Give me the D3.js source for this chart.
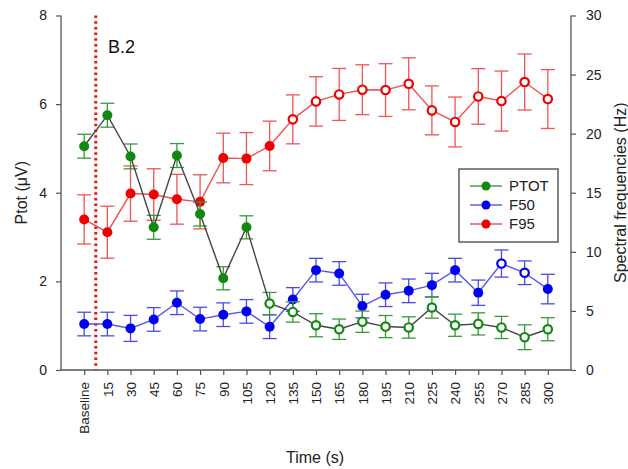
<!DOCTYPE html>
<html><head><meta charset="utf-8">
<script src="https://cdn.jsdelivr.net/npm/d3@7"></script>
<style>body{margin:0;background:#fff}svg{display:block}text{font-family:"Liberation Sans",Arial,sans-serif}</style>
</head><body><svg id="c" width="628" height="469"></svg>
<script>
const categories = ["Baseline","15","30","45","60","75","90","105","120","135","150","165","180","195","210","225","240","255","270","285","300"];
// PTOT (left axis, µV)
const ptot = [5.05,5.75,4.82,3.22,4.84,3.52,2.07,3.22,1.50,1.31,1.01,0.92,1.09,0.98,0.96,1.41,1.01,1.04,0.96,0.74,0.92];
const ptotErr = [0.27,0.27,0.28,0.27,0.27,0.27,0.26,0.26,0.25,0.23,0.26,0.23,0.24,0.25,0.24,0.24,0.25,0.25,0.25,0.28,0.26];
const ptotHollow = [0,0,0,0,0,0,0,0,1,1,1,1,1,1,1,1,1,1,1,1,1];
// F50 (right axis, Hz)
const f50 = [3.89,3.89,3.52,4.28,5.69,4.31,4.68,4.96,3.66,5.97,8.45,8.17,5.41,6.37,6.70,7.18,8.45,6.54,9.01,8.23,6.85];
const f50Err = [1.0,1.0,1.1,1.0,1.0,1.0,1.0,1.0,1.0,1.0,1.0,1.0,1.0,1.0,1.0,1.0,1.0,1.07,1.15,1.0,1.25];
const f50Hollow = [0,0,0,0,0,0,0,0,0,0,0,0,0,0,0,0,0,0,1,1,0];
// F95 (right axis, Hz)
const f95 = [12.74,11.66,14.93,14.85,14.45,14.23,17.94,17.89,18.96,21.21,22.73,23.32,23.72,23.69,24.22,21.97,20.99,23.15,22.76,24.37,22.93];
const f95Err = [2.08,2.2,2.34,2.18,2.11,2.29,2.1,2.2,2.1,2.07,2.09,2.2,2.11,2.23,2.2,2.07,2.11,2.35,2.54,2.37,2.49];
const f95Hollow = [0,0,0,0,0,0,0,0,0,1,1,1,1,1,1,1,1,1,1,1,1];
const leftTicks = [0,2,4,6,8];
const rightTicks = [0,5,10,15,20,25,30];
const seriesNames = ["PTOT","F50","F95"];

const svg = d3.select("#c");
const L = 61, R = 571, T = 15.5, B = 370;
const x = d3.scalePoint().domain(categories).range([L, R]).padding(1);
const yL = d3.scaleLinear().domain([0, 8]).range([B, T]);
const yR = d3.scaleLinear().domain([0, 30]).range([B, T]);
const axisCol = "#555";

// axes
const gl = svg.append("g").attr("transform", `translate(${L},0)`)
  .call(d3.axisLeft(yL).tickValues(leftTicks).tickSize(5).tickPadding(9));
const gr = svg.append("g").attr("transform", `translate(${R},0)`)
  .call(d3.axisRight(yR).tickValues(rightTicks).tickSize(5).tickPadding(10));
const gb = svg.append("g").attr("transform", `translate(0,${B})`)
  .call(d3.axisBottom(x).tickSize(5).tickSizeOuter(0));
[gl, gr, gb].forEach(g => {
  g.select(".domain").attr("stroke", axisCol).attr("stroke-width", 1.3);
  g.selectAll(".tick line").attr("stroke", axisCol).attr("stroke-width", 1.2);
  g.selectAll("text").attr("fill", "#222").style("font-size", "14px");
});
gl.select(".domain").attr("d", `M0,${B}V${T}`);
gr.select(".domain").attr("d", `M0,${B}V${T}`);
gb.select(".domain").attr("d", `M${L},0H${R}`);
gb.selectAll("text").style("font-size", "13.5px")
  .attr("transform", "rotate(-90)").attr("text-anchor", "end")
  .attr("x", -12).attr("y", 0).attr("dy", "0.35em");

// dotted vertical line
const xDot = (x(categories[0]) + x(categories[1])) / 2;
svg.append("line").attr("x1", xDot).attr("x2", xDot).attr("y1", T).attr("y2", B)
  .attr("stroke", "#ee1111").attr("stroke-width", 3).attr("stroke-dasharray", "2.5,3.2");

function drawSeries(vals, errs, hollow, ys, lineCol, markCol, errCol) {
  const g = svg.append("g");
  const data = vals.map((v, i) => ({c: categories[i], v, e: errs[i], h: hollow[i]}));
  g.selectAll("g.eb").data(data).enter().append("g").each(function(d) {
    const s = d3.select(this), cx = x(d.c);
    const y1 = ys(d.v + d.e), y2 = ys(d.v - d.e);
    s.append("line").attr("x1", cx).attr("x2", cx).attr("y1", y1).attr("y2", y2);
    s.append("line").attr("x1", cx - 7).attr("x2", cx + 7).attr("y1", y1).attr("y2", y1);
    s.append("line").attr("x1", cx - 7).attr("x2", cx + 7).attr("y1", y2).attr("y2", y2);
    s.selectAll("line").attr("stroke", errCol).attr("stroke-width", 1.3);
  });
  g.append("path").datum(data)
    .attr("d", d3.line().x(d => x(d.c)).y(d => ys(d.v)))
    .attr("fill", "none").attr("stroke", lineCol).attr("stroke-width", 1.4);
  g.selectAll("circle").data(data).enter().append("circle")
    .attr("cx", d => x(d.c)).attr("cy", d => ys(d.v))
    .attr("r", d => d.h ? 4.2 : 5)
    .attr("fill", d => d.h ? "#fff" : markCol)
    .attr("stroke", markCol).attr("stroke-width", d => d.h ? 2.2 : 0);
}
drawSeries(f95, f95Err, f95Hollow, yR, "#f05050", "#ee0000", "#ef5555");
drawSeries(f50, f50Err, f50Hollow, yR, "#5555ee", "#0000ee", "#4a4ae8");
drawSeries(ptot, ptotErr, ptotHollow, yL, "#444", "#118811", "#3a9a3a");

// labels
svg.append("text").attr("x", 108).attr("y", 53).text("B.2").style("font-size", "18px").attr("fill", "#111");
svg.append("text").attr("transform", `translate(27,${(T + B) / 2}) rotate(-90)`)
  .attr("text-anchor", "middle").style("font-size", "16px").attr("fill", "#222").text("Ptot (μV)");
svg.append("text").attr("transform", `translate(626,${(T + B) / 2}) rotate(-90)`)
  .attr("text-anchor", "middle").style("font-size", "16px").attr("fill", "#222").text("Spectral frequencies (Hz)");
svg.append("text").attr("x", 315).attr("y", 463).attr("text-anchor", "middle")
  .style("font-size", "16px").attr("fill", "#222").text("Time (s)");

// legend
const lg = svg.append("g");
lg.append("rect").attr("x", 459).attr("y", 169).attr("width", 99).attr("height", 73)
  .attr("fill", "#fff").attr("stroke", "#444").attr("stroke-width", 1.3);
const legCols = [["#3a9a3a", "#118811"], ["#5555ee", "#0000ee"], ["#f05050", "#ee0000"]];
seriesNames.forEach((n, i) => {
  const yy = 186 + i * 19;
  lg.append("line").attr("x1", 470).attr("x2", 502).attr("y1", yy).attr("y2", yy)
    .attr("stroke", legCols[i][0]).attr("stroke-width", 1.4);
  lg.append("circle").attr("cx", 486).attr("cy", yy).attr("r", 4.5).attr("fill", legCols[i][1]);
  lg.append("text").attr("x", 509).attr("y", yy).attr("dy", "0.35em")
    .style("font-size", "15px").attr("fill", "#222").text(n);
});
</script></body></html>
